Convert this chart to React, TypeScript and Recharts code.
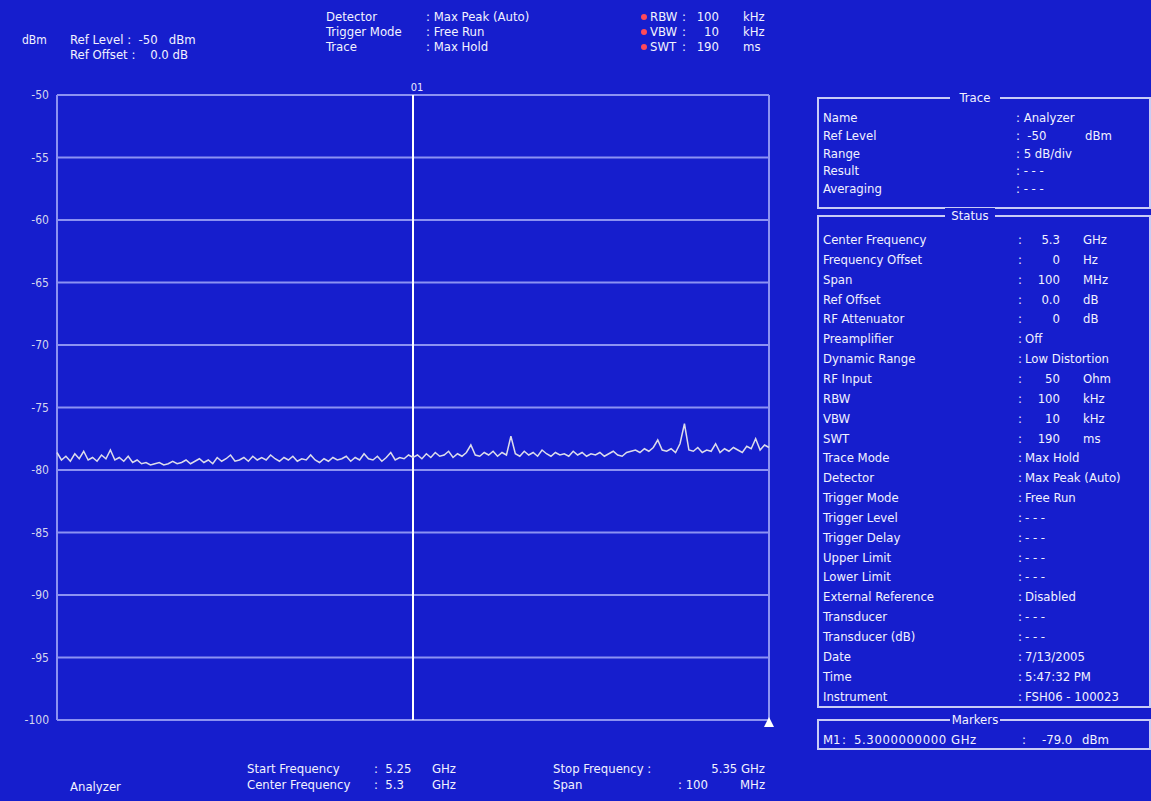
import React from "react"
import { LineChart, Line, XAxis, YAxis, CartesianGrid, ReferenceLine, ReferenceDot } from "recharts"

// trace, 161 sweep points from 5.25 to 5.35 GHz
const startFreq = 5250
const stopFreq = 5350
const traceDbm = [
  -78.6, -79.2, -78.9, -79.3, -78.7, -79.1, -78.5, -79.2, -79.0, -79.3, -78.8, -79.1, -78.4, -79.2, -79.0, -79.3, -78.9,
  -79.4, -79.2, -79.5, -79.4, -79.6, -79.5, -79.4, -79.6, -79.5, -79.3, -79.5, -79.4, -79.2, -79.5, -79.3, -79.1,
  -79.4, -79.2, -79.5, -79.0, -79.3, -79.1, -78.8, -79.3, -79.2, -79.0, -79.3, -78.9, -79.2, -79.0, -79.2, -78.8,
  -79.1, -79.3, -79.0, -79.2, -78.9, -79.3, -79.1, -79.2, -78.8, -79.2, -79.4, -79.1, -79.3, -79.0, -79.2, -79.1,
  -78.9, -79.3, -79.0, -79.2, -78.7, -79.1, -79.2, -78.9, -79.3, -79.0, -78.6, -79.2, -79.0, -79.1, -78.8, -79.0,
  -78.8, -79.1, -78.7, -79.0, -78.6, -78.9, -78.8, -78.5, -79.0, -78.7, -78.9, -78.6, -78.0, -78.8, -78.9, -78.6,
  -78.8, -78.5, -78.9, -78.6, -78.8, -77.3, -78.7, -78.9, -78.5, -78.8, -78.6, -78.9, -78.4, -78.7, -78.9, -78.6,
  -78.8, -78.7, -78.9, -78.5, -78.8, -78.6, -78.9, -78.7, -78.8, -78.6, -78.9, -78.7, -78.5, -78.8, -78.9, -78.6,
  -78.5, -78.4, -78.6, -78.3, -78.5, -78.2, -77.6, -78.4, -78.5, -78.3, -78.6, -77.9, -76.3, -78.4, -78.5, -78.2,
  -78.6, -78.4, -78.5, -77.9, -78.6, -78.3, -78.5, -78.2, -78.4, -78.6, -78.1, -78.3, -77.5, -78.4, -78.0, -78.2,
]
const freqTicks = [5250, 5260, 5270, 5280, 5290, 5300, 5310, 5320, 5330, 5340, 5350]
const levelTicks = [-100, -95, -90, -85, -80, -75, -70, -65, -60, -55, -50]
const markerFreq = 5300

const traceRows = [
  ["Name", ": Analyzer", ""],
  ["Ref Level", ":  -50", "dBm"],
  ["Range", ": 5 dB/div", ""],
  ["Result", ": - - -", ""],
  ["Averaging", ": - - -", ""],
]

const statusRows = [
  ["Center Frequency", "5.3", "GHz"],
  ["Frequency Offset", "0", "Hz"],
  ["Span", "100", "MHz"],
  ["Ref Offset", "0.0", "dB"],
  ["RF Attenuator", "0", "dB"],
  ["Preamplifier", "Off", ""],
  ["Dynamic Range", "Low Distortion", ""],
  ["RF Input", "50", "Ohm"],
  ["RBW", "100", "kHz"],
  ["VBW", "10", "kHz"],
  ["SWT", "190", "ms"],
  ["Trace Mode", "Max Hold", ""],
  ["Detector", "Max Peak (Auto)", ""],
  ["Trigger Mode", "Free Run", ""],
  ["Trigger Level", "- - -", ""],
  ["Trigger Delay", "- - -", ""],
  ["Upper Limit", "- - -", ""],
  ["Lower Limit", "- - -", ""],
  ["External Reference", "Disabled", ""],
  ["Transducer", "- - -", ""],
  ["Transducer (dB)", "- - -", ""],
  ["Date", "7/13/2005", ""],
  ["Time", "5:47:32 PM", ""],
  ["Instrument", "FSH06 - 100023", ""],
]

const headerRows = [
  ["Detector", "Max Peak (Auto)"],
  ["Trigger Mode", "Free Run"],
  ["Trace", "Max Hold"],
]
const bandwidthRows = [
  ["RBW", "100", "kHz"],
  ["VBW", "10", "kHz"],
  ["SWT", "190", "ms"],
]

const data = traceDbm.map((v, i) => ({
  freq: startFreq + (i * (stopFreq - startFreq)) / (traceDbm.length - 1),
  dbm: v,
}))

const BG = "rgb(22,30,205)"
const FONT = "'Liberation Sans Narrow', 'DejaVu Sans Condensed', 'Arial Narrow', sans-serif"

function T({ x, y, children, align, size }: { x: number; y: number; children: React.ReactNode; align?: "right"; size?: number }) {
  const style: React.CSSProperties = {
    position: "absolute",
    top: y - 8,
    lineHeight: "16px",
    fontSize: size || 13,
    whiteSpace: "pre",
    color: "#f2f2ff",
  }
  if (align === "right") style.right = 1151 - x
  else style.left = x
  return <div style={style}>{children}</div>
}

function Box({ top, height, title, titleX }: { top: number; height: number; title: string; titleX: number }) {
  return (
    <>
      <div
        style={{
          position: "absolute",
          left: 817,
          top,
          width: 330,
          height,
          border: "2px solid #c8ccf6",
        }}
      />
      <div
        style={{
          position: "absolute",
          left: titleX - 25,
          width: 50,
          top: top - 7,
          lineHeight: "16px",
          fontSize: 13,
          textAlign: "center",
          background: BG,
          color: "#f2f2ff",
        }}
      >
        {title}
      </div>
    </>
  )
}

const Triangle = (p: any) => (
  <polygon points={`${p.cx - 5},${p.cy + 7} ${p.cx + 5},${p.cy + 7} ${p.cx},${p.cy - 3}`} fill="#ffffff" />
)

export default function App() {
  return (
    <div
      style={{
        position: "absolute",
        left: 0,
        top: 0,
        width: 1151,
        height: 801,
        background: BG,
        fontFamily: FONT,
        overflow: "hidden",
      }}
    >
      <div style={{ position: "absolute", left: 0, top: 0 }}>
        <LineChart width={800} height={760} data={data} margin={{ top: 95, right: 31, bottom: 40, left: 17 }}>
          <CartesianGrid stroke="#8c92f2" strokeWidth={2} />
          <XAxis
            dataKey="freq"
            type="number"
            domain={[startFreq, stopFreq]}
            ticks={freqTicks}
            tick={false}
            axisLine={false}
            tickLine={false}
            height={0}
          />
          <YAxis
            type="number"
            domain={[-100, -50]}
            ticks={levelTicks}
            width={40}
            axisLine={false}
            tickLine={false}
            tickSize={0}
            tickMargin={8}
            tick={{ fill: "#d4d6ee", fontSize: 12, fontFamily: FONT }}
          />
          <ReferenceLine
            x={markerFreq}
            stroke="#ffffff"
            strokeWidth={2}
            label={{ value: "01", position: "top", fill: "#e8e8ff", fontSize: 11, offset: 4, dx: 4 }}
          />
          <Line
            type="linear"
            dataKey="dbm"
            stroke="#dcdcea"
            strokeWidth={1.5}
            dot={false}
            isAnimationActive={false}
          />
          <ReferenceDot x={stopFreq} y={-100} r={5} shape={Triangle} />
        </LineChart>
      </div>

      {/* header */}
      <T x={22} y={40} size={12}>dBm</T>
      <T x={70} y={40}>Ref Level :  -50   dBm</T>
      <T x={70} y={55}>Ref Offset :    0.0 dB</T>
      {headerRows.map((r, i) => (
        <React.Fragment key={r[0]}>
          <T x={326} y={17 + i * 15}>{r[0]}</T>
          <T x={426} y={17 + i * 15}>: {r[1]}</T>
        </React.Fragment>
      ))}
      {bandwidthRows.map((r, i) => (
        <React.Fragment key={r[0]}>
          <div
            style={{ position: "absolute", left: 641, top: 14 + i * 15, width: 6, height: 6, borderRadius: 3, background: "#ff4a5a" }}
          />
          <T x={650} y={17 + i * 15}>{r[0]}</T>
          <T x={682} y={17 + i * 15}>:</T>
          <T x={719} y={17 + i * 15} align="right">{r[1]}</T>
          <T x={743} y={17 + i * 15}>{r[2]}</T>
        </React.Fragment>
      ))}

      {/* footer */}
      <T x={70} y={787}>Analyzer</T>
      <T x={247} y={769}>Start Frequency</T>
      <T x={247} y={785}>Center Frequency</T>
      <T x={374} y={769}>:  5.25</T>
      <T x={374} y={785}>:  5.3</T>
      <T x={432} y={769}>GHz</T>
      <T x={432} y={785}>GHz</T>
      <T x={553} y={769}>Stop Frequency :</T>
      <T x={765} y={769} align="right">5.35 GHz</T>
      <T x={553} y={785}>Span</T>
      <T x={678} y={785}>: 100</T>
      <T x={740} y={785}>MHz</T>

      {/* side panel */}
      <Box top={97} height={108} title="Trace" titleX={975} />
      {traceRows.map((r, i) => (
        <React.Fragment key={r[0]}>
          <T x={823} y={118 + i * 17.8}>{r[0]}</T>
          <T x={1016} y={118 + i * 17.8}>{r[1]}</T>
          {r[2] && <T x={1085} y={118 + i * 17.8}>{r[2]}</T>}
        </React.Fragment>
      ))}

      <Box top={215} height={489} title="Status" titleX={970} />
      {statusRows.map((r, i) => {
        const y = 240 + i * 19.85
        return (
          <React.Fragment key={r[0]}>
            <T x={823} y={y}>{r[0]}</T>
            <T x={1018} y={y}>:</T>
            {r[2] ? (
              <>
                <T x={1060} y={y} align="right">{r[1]}</T>
                <T x={1083} y={y}>{r[2]}</T>
              </>
            ) : (
              <T x={1025} y={y}>{r[1]}</T>
            )}
          </React.Fragment>
        )
      })}

      <Box top={719} height={27} title="Markers" titleX={975} />
      <T x={823} y={740}>M1</T>
      <T x={842} y={740}>:</T>
      <div
        style={{ position: "absolute", left: 854, top: 732, lineHeight: "16px", fontSize: 13, letterSpacing: 0.6, whiteSpace: "pre", color: "#f2f2ff" }}
      >
        5.3000000000 GHz
      </div>
      <T x={1022} y={740}>:</T>
      <T x={1042} y={740}>-79.0</T>
      <T x={1082} y={740}>dBm</T>
    </div>
  )
}
